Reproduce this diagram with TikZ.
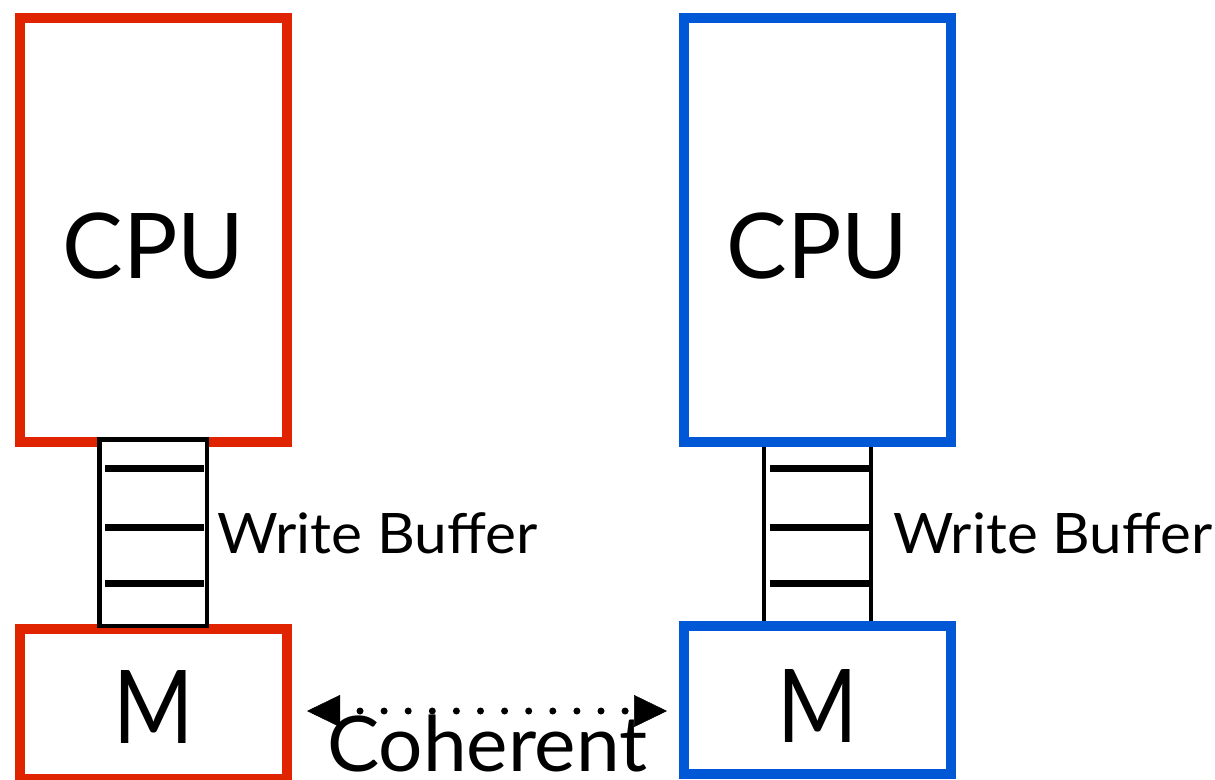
\documentclass[tikz,border=0pt]{standalone}
\usepackage{fontspec}
\setmainfont{Lato}
\usetikzlibrary{arrows.meta}
\definecolor{cpured}{RGB}{224,36,0}
\definecolor{cpublue}{RGB}{0,88,214}
\begin{document}
\begin{tikzpicture}[x=1pt,y=-1pt,
  box/.style={draw=#1, line width=10pt, minimum width=267pt, inner sep=0pt, outer sep=0pt},
  bufline/.style={draw=black, line width=4.5pt},
  slot/.style={line width=7pt},
  lbl/.style={inner sep=0pt, outer sep=0pt, text=black},
  big/.style={font=\fontsize{90.7}{92}\selectfont},
  mem/.style={font=\fontsize{101.9}{104}\selectfont},
  small/.style={font=\fontsize{55.8}{58}\selectfont},
  cohtips/.style={line width=0.5pt, dash pattern=on 0pt off 2000pt,
    >={Triangle[length=33pt,width=32pt]}, <->},
  cohdots/.style={line width=7pt, line cap=round, dash pattern=on 0pt off 24.1pt,
    shorten <=53pt, shorten >=40pt}]
\clip (0,0) rectangle (1215,779);

% right write buffer: two rails between CPU and memory
\draw[bufline] (764,442) -- (764,626);
\draw[bufline] (871,442) -- (871,626);

% processor and memory boxes
\node[box=cpured, minimum height=424pt] (cpuL) at (153.5,230) {};
\node[box=cpured, minimum height=150pt] (mL) at (153.5,703.5) {};
\node[box=cpublue, minimum height=424pt] (cpuR) at (817.5,230) {};
\node[box=cpublue, minimum height=148pt] (mR) at (817.5,700) {};

% left write buffer: closed box on top of the red borders
\node[draw=black, line width=4.5pt, fill=white, minimum width=107.5pt, minimum height=186.5pt,
  inner sep=0pt, outer sep=0pt] (bufL) at (153.25,532.75) {};

% buffer slots
\foreach \y in {468.5,527,583.5}{
  \draw[slot] (105,\y) -- (204,\y);
  \draw[slot] (770,\y) -- (869,\y);
}

% labels
\node[lbl, big, anchor=base] (tCpuL) at (153.5,278) {CPU};
\node[lbl, big, anchor=base] (tCpuR) at (817.5,278) {CPU};
\node[lbl, mem, anchor=base] (tML) at (154,743) {\scalebox{0.85}[1]{M}};
\node[lbl, mem, anchor=base] (tMR) at (817.5,742) {\scalebox{0.85}[1]{M}};
\node[lbl, small, anchor=base west] (tBufL) at (217,553) {\scalebox{1.05}[1]{Write Buffer}};
\node[lbl, small, anchor=base west] (tBufR) at (893,553) {\scalebox{1.045}[1]{Write Buffer}};

% coherence link between the two memories: solid heads, dotted shaft
\coordinate (tipL) at (307,711);
\coordinate (tipR) at (667,711);
\draw[cohtips] (tipL) -- (tipR);
\draw[cohdots] (tipL) -- (tipR);
\node[lbl, font=\fontsize{76.8}{78}\selectfont, anchor=base west] (tCoh) at (327,771)
  {\scalebox{1.02}[1]{Coherent}};
\end{tikzpicture}
\end{document}
